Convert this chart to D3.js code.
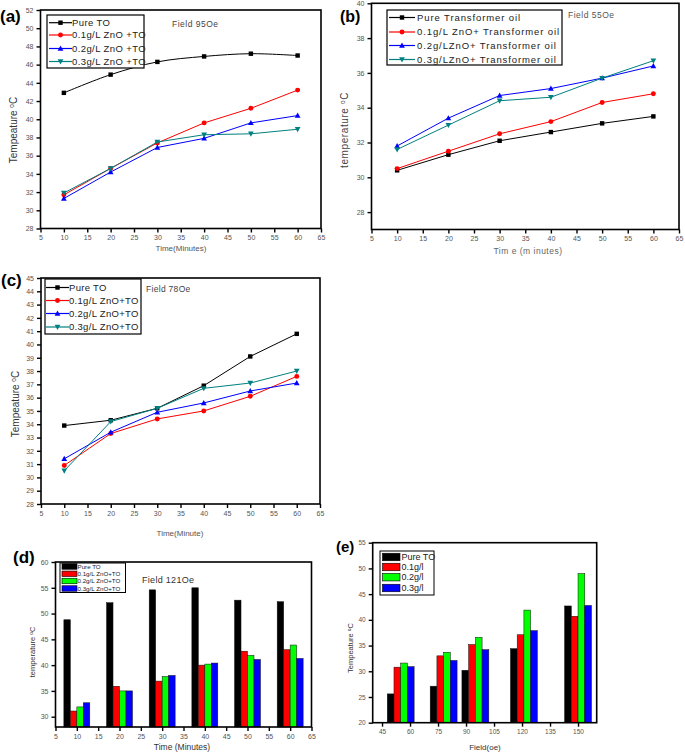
<!DOCTYPE html>
<html><head><meta charset="utf-8">
<script src="https://cdn.jsdelivr.net/npm/d3@7/dist/d3.min.js"></script>
<style>
body{margin:0;background:#fff;}
svg{display:block;font-family:Arial,"Liberation Sans",sans-serif;}
.tick text{fill:#555;}
</style></head><body>
<svg id="c" width="685" height="752"></svg>
<script>
// ---------- DATA ----------
const timeX = [10, 20, 30, 40, 50, 60];

// (a) Field 95Oe
const aPure  = [42.9, 44.9, 46.3, 46.9, 47.2, 47.0];
const aZn01  = [31.7, 34.6, 37.4, 39.6, 41.2, 43.2];
const aZn02  = [31.3, 34.2, 36.9, 37.9, 39.6, 40.4];
const aZn03  = [31.9, 34.6, 37.5, 38.3, 38.4, 38.9];
const aLegend = ["Pure TO", "0.1g/L  ZnO +TO", "0.2g/L  ZnO +TO", "0.3g/L  ZnO +TO"];

// (b) Field 55Oe
const bPure  = [30.4, 31.3, 32.1, 32.6, 33.1, 33.5];
const bZn01  = [30.5, 31.5, 32.5, 33.2, 34.3, 34.8];
const bZn02  = [31.8, 33.4, 34.7, 35.1, 35.7, 36.4];
const bZn03  = [31.6, 33.0, 34.4, 34.6, 35.7, 36.7];
const bLegend = ["Pure Transformer oil", "0.1g/L ZnO+ Transformer oil", "0.2g/LZnO+ Transformer oil", "0.3g/LZnO+ Transformer oil"];

// (c) Field 78Oe
const cPure  = [33.9, 34.3, 35.2, 36.9, 39.1, 40.8];
const cZn01  = [30.9, 33.3, 34.4, 35.0, 36.1, 37.6];
const cZn02  = [31.4, 33.4, 34.9, 35.6, 36.5, 37.1];
const cZn03  = [30.5, 34.2, 35.2, 36.7, 37.1, 38.0];
const cLegend = ["Pure TO", "0.1g/L  ZnO+TO", "0.2g/L  ZnO+TO", "0.3g/L  ZnO+TO"];

// (d) Field 121Oe (bars)
const dPure  = [48.8, 52.1, 54.6, 55.0, 52.6, 52.3];
const dZn01  = [31.1, 35.9, 36.9, 40.0, 42.7, 43.0];
const dZn02  = [31.9, 35.0, 37.8, 40.2, 41.9, 43.9];
const dZn03  = [32.7, 35.0, 38.0, 40.4, 41.1, 41.3];
const dLegend = ["Pure TO", "0.1g/L  ZnO+TO", "0.2g/L  ZnO+TO", "0.3g/L  ZnO+TO"];

// (e) Temperature vs field (bars)
const eField = [55, 78, 95, 121, 150];
const ePure  = [25.6, 27.1, 30.2, 34.4, 42.7];
const eZn01  = [30.8, 33.0, 35.2, 37.1, 40.7];
const eZn02  = [31.6, 33.7, 36.6, 41.9, 49.0];
const eZn03  = [30.9, 32.1, 34.2, 37.9, 42.8];
const eLegend = ["Pure TO", "0.1g/l", "0.2g/l", "0.3g/l"];
const eTicks = [45, 60, 75, 90, 105, 120, 135, 150];

const lineColors = ["#000000", "#ff0000", "#0000ff", "#008080"];
const barColors  = ["#000000", "#ff0000", "#00ff00", "#0000ff"];
const markers = ["square", "circle", "up", "down"];

// ---------- HELPERS ----------
const svg = d3.select("#c");

function marker(g, type, x, y, color, s) {
  s = s || 3;
  if (type === "square") g.append("rect").attr("x", x - s*0.85).attr("y", y - s*0.85).attr("width", s*1.7).attr("height", s*1.7).attr("fill", color);
  else if (type === "circle") g.append("circle").attr("cx", x).attr("cy", y).attr("r", s*0.95).attr("fill", color);
  else if (type === "up") g.append("path").attr("d", `M${x},${y - s*1.15}L${x + s*1.1},${y + s*0.85}L${x - s*1.1},${y + s*0.85}Z`).attr("fill", color);
  else g.append("path").attr("d", `M${x},${y + s*1.15}L${x + s*1.1},${y - s*0.85}L${x - s*1.1},${y - s*0.85}Z`).attr("fill", color);
}

function frame(g, x, y, opt) {
  const [x0, x1] = x.range(), [y0, y1] = y.range();
  const xa = d3.axisBottom(x).tickValues(opt.xticks).tickSize(4).tickSizeOuter(0);
  const ya = d3.axisLeft(y).tickValues(opt.yticks).tickSize(4).tickSizeOuter(0);
  const gx = g.append("g").attr("transform", `translate(0,${y0})`).call(xa);
  const gy = g.append("g").attr("transform", `translate(${x0},0)`).call(ya);
  [gx, gy].forEach(a => {
    a.select(".domain").remove();
    a.selectAll(".tick line").attr("stroke", "#000").attr("stroke-width", 1.4);
    a.selectAll(".tick text").attr("font-size", opt.tickSize || 7).attr("fill", "#666");
  });
  g.append("rect").attr("x", x0).attr("y", y1).attr("width", x1 - x0).attr("height", y0 - y1)
    .attr("fill", "none").attr("stroke", "#000").attr("stroke-width", 1.6);
}

function linePanel(p) {
  const g = svg.append("g");
  const x = d3.scaleLinear().domain(p.xdom).range([p.left, p.right]);
  const y = d3.scaleLinear().domain(p.ydom).range([p.bottom, p.top]);
  frame(g, x, y, p);
  p.series.forEach((s, i) => {
    const line = d3.line().x((d, j) => x(timeX[j])).y(d => y(d));
    if (p.smooth && p.smooth[i]) line.curve(d3.curveCatmullRom.alpha(0.5));
    g.append("path").datum(s).attr("d", line).attr("fill", "none").attr("stroke", lineColors[i]).attr("stroke-width", 1);
    s.forEach((v, j) => marker(g, markers[i], x(timeX[j]), y(v), lineColors[i], 2.6));
  });
  const L = p.legend;
  g.append("rect").attr("x", L.x0).attr("y", L.y0).attr("width", L.x1 - L.x0).attr("height", L.y1 - L.y0)
    .attr("fill", "#fff").attr("stroke", "#000").attr("stroke-width", 1.2);
  p.labels.forEach((t, i) => {
    const yy = L.rows[i];
    g.append("line").attr("x1", L.sx0).attr("x2", L.sx1).attr("y1", yy).attr("y2", yy).attr("stroke", lineColors[i]).attr("stroke-width", 1.2);
    marker(g, markers[i], (L.sx0 + L.sx1) / 2, yy, lineColors[i], 2.6);
    g.append("text").attr("x", L.tx).attr("y", yy).attr("dy", "0.35em").attr("font-size", L.fs)
      .attr("letter-spacing", L.ls).attr("fill", "#222").text(t);
  });
}

function barPanel(p) {
  const g = svg.append("g");
  const x = d3.scaleLinear().domain(p.xdom).range([p.left, p.right]);
  const y = d3.scaleLinear().domain(p.ydom).range([p.bottom, p.top]);
  const bw = p.bw;
  p.series.forEach((s, i) => {
    s.forEach((v, j) => {
      const cx = p.cats[j] + (i - 2) * bw;
      g.append("rect").attr("x", x(cx)).attr("y", y(v)).attr("width", x(cx + bw) - x(cx)).attr("height", y(p.ydom[0]) - y(v))
        .attr("fill", barColors[i]).attr("stroke", "#111").attr("stroke-width", 0.5);
    });
  });
  frame(g, x, y, p);
  const L = p.legend;
  g.append("rect").attr("x", L.x0).attr("y", L.y0).attr("width", L.x1 - L.x0).attr("height", L.y1 - L.y0)
    .attr("fill", "#fff").attr("stroke", "#000").attr("stroke-width", 1);
  p.labels.forEach((t, i) => {
    const yy = L.rows[i];
    g.append("rect").attr("x", L.sx0).attr("y", yy - L.sh / 2).attr("width", L.sx1 - L.sx0).attr("height", L.sh)
      .attr("fill", barColors[i]).attr("stroke", "#000").attr("stroke-width", 0.6);
    g.append("text").attr("x", L.tx).attr("y", yy).attr("dy", "0.35em").attr("font-size", L.fs).attr("fill", "#222").text(t);
  });
}

function text(x, y, t, o) {
  o = o || {};
  const e = svg.append("text").attr("x", x).attr("y", y).attr("font-size", o.fs || 9).attr("fill", o.fill || "#333")
    .attr("text-anchor", o.anchor || "start");
  if (o.bold) e.attr("font-weight", "bold");
  if (o.ls) e.attr("letter-spacing", o.ls);
  if (o.rot) e.attr("transform", `rotate(-90,${x},${y})`);
  if (o.sup) {
    e.append("tspan").text(t);
    e.append("tspan").attr("font-size", (o.fs || 9) * 0.65).attr("dy", "-0.5em").text("o");
    e.append("tspan").attr("dy", "0.35em").text(o.sup);
  } else e.text(t);
  return e;
}

// ---------- PANELS ----------
linePanel({
  left: 40.5, right: 321, top: 10, bottom: 228.5, xdom: [5, 65], ydom: [28, 52],
  xticks: d3.range(5, 66, 5), yticks: d3.range(28, 53, 2), tickSize: 7,
  series: [aPure, aZn01, aZn02, aZn03], smooth: [true, false, false, false], labels: aLegend,
  legend: { x0: 47, x1: 144, y0: 15, y1: 68, rows: [22.7, 35, 48.5, 61.5], sx0: 49, sx1: 72, tx: 72, fs: 9.5, ls: 0.4 }
});
linePanel({
  left: 371.5, right: 679, top: 3.3, bottom: 229.5, xdom: [5, 65], ydom: [27, 40],
  xticks: d3.range(5, 66, 5), yticks: d3.range(28, 41, 2), tickSize: 7,
  series: [bPure, bZn01, bZn02, bZn03], labels: bLegend,
  legend: { x0: 387, x1: 562, y0: 10, y1: 65, rows: [17.5, 32, 45.5, 59.5], sx0: 389, sx1: 415, tx: 417, fs: 9.5, ls: 0.9 }
});
linePanel({
  left: 41, right: 320, top: 278, bottom: 504, xdom: [5, 65], ydom: [28, 45],
  xticks: d3.range(5, 66, 5), yticks: d3.range(28, 46, 1), tickSize: 7,
  series: [cPure, cZn01, cZn02, cZn03], labels: cLegend,
  legend: { x0: 45, x1: 141, y0: 279, y1: 334, rows: [287.5, 300.5, 313.5, 327], sx0: 46, sx1: 69, tx: 69, fs: 9.5, ls: 0.3 }
});
barPanel({
  left: 55.5, right: 311.5, top: 562, bottom: 727, xdom: [5, 65], ydom: [28, 60],
  xticks: d3.range(5, 66, 5), yticks: d3.range(30, 61, 5), tickSize: 7,
  cats: timeX, bw: 1.52, series: [dPure, dZn01, dZn02, dZn03], labels: dLegend,
  legend: { x0: 60, x1: 125.5, y0: 563, y1: 592.5, rows: [566.5, 573.8, 581, 588.5], sx0: 62, sx1: 77, sh: 5.5, tx: 77.5, fs: 6.2 }
});
barPanel({
  left: 372.7, right: 596.7, top: 542.7, bottom: 722.7, xdom: [40, 160], ydom: [20, 55],
  xticks: eTicks, yticks: d3.range(20, 56, 5), tickSize: 6.5,
  cats: eField, bw: 3.6, series: [ePure, eZn01, eZn02, eZn03], labels: eLegend,
  legend: { x0: 380, x1: 434, y0: 551, y1: 595, rows: [557, 567, 577.2, 588], sx0: 382.5, sx1: 400, sh: 7.5, tx: 401.5, fs: 9 }
});

// ---------- TEXT ----------
text(0, 22, "(a)", { fs: 17, bold: true, fill: "#000" });
text(340, 22, "(b)", { fs: 16, bold: true, fill: "#000" });
text(1, 286, "(c)", { fs: 17, bold: true, fill: "#000" });
text(13, 563, "(d)", { fs: 17, bold: true, fill: "#000" });
text(336, 552, "(e)", { fs: 15, bold: true, fill: "#000" });

text(172, 27, "Field 95Oe", { fs: 8.5, fill: "#444", ls: 0.5 });
text(568, 18, "Field 55Oe", { fs: 8.5, fill: "#555", ls: 0.5 });
text(146, 292, "Field 78Oe", { fs: 8.5, fill: "#444", ls: 0.3 });
text(142, 583, "Field 121Oe", { fs: 9, fill: "#333", ls: 0.3 });

text(17, 130, "Tempeature ", { fs: 10, rot: true, anchor: "middle", sup: "C", fill: "#333" });
text(348, 130, "temperature ", { fs: 10, rot: true, anchor: "middle", sup: "C", fill: "#444", ls: 0.6 });
text(19, 404, "Tempeature ", { fs: 10, rot: true, anchor: "middle", sup: "C", fill: "#333" });
text(35, 652, "temperature ", { fs: 7.5, rot: true, anchor: "middle", sup: "C", fill: "#333" });
text(353, 648, "Tempeature ", { fs: 7.5, rot: true, anchor: "middle", sup: "C", fill: "#333" });

text(181, 251, "Time(Minutes)", { fs: 8, anchor: "middle", fill: "#555" });
text(528, 254, "Tim e (m inutes)", { fs: 8.5, anchor: "middle", fill: "#666", ls: 0.5 });
text(180, 536, "Time(Minute)", { fs: 8, anchor: "middle", fill: "#555" });
text(182, 750, "Time (Minutes)", { fs: 8.5, anchor: "middle", fill: "#333" });
text(485, 750, "Field(oe)", { fs: 8, anchor: "middle", fill: "#333" });
</script></body></html>
